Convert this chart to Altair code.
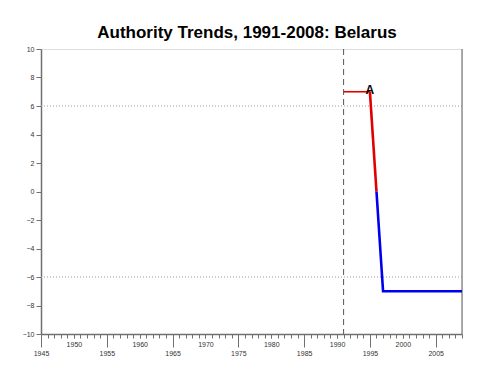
import altair as alt
import pandas as pd

# data
years_red_flat = [1991, 1995]
vals_red_flat = [7, 7]
years_red_drop = [1995, 1996]
vals_red_drop = [7, 0]
years_blue = [1996, 1997, 2009]
vals_blue = [0, -7, -7]
ref_lines = [6, -6]
transition_year = [1991]
end_year = [2009]
label_text = ["A"]
label_year = [1995]
label_val = [7]
all_years = list(range(1945, 2010))
major_years = [1945, 1955, 1965, 1975, 1985, 1995, 2005]
mid_years = [1950, 1960, 1970, 1980, 1990, 2000]
y_ticks = list(range(-10, 11, 2))

rows = []
for y, v in zip(years_red_flat, vals_red_flat):
    rows.append({"year": y, "value": v, "seg": "red_flat"})
for y, v in zip(years_red_drop, vals_red_drop):
    rows.append({"year": y, "value": v, "seg": "red_drop"})
for y, v in zip(years_blue, vals_blue):
    rows.append({"year": y, "value": v, "seg": "blue"})
df = pd.DataFrame(rows)

FONT = "Liberation Sans"
xscale = alt.Scale(domain=[1945, 2009], nice=False, zero=False)
yscale = alt.Scale(domain=[-10, 10], nice=False, zero=False)
AX = "#707070"
LBL = "#333333"

minor_axis = alt.Axis(orient="bottom", values=all_years, labels=False, tickSize=4, tickColor=AX,
                      domainColor=AX, domainWidth=1.5, grid=False, title=None)
major_axis = alt.Axis(orient="bottom", values=major_years, tickSize=13, tickColor=AX, labelPadding=2,
                      labelFontSize=7, labelFont=FONT, labelColor=LBL, domain=False,
                      grid=False, title=None, format="d", labelFlush=False, labelOverlap=False)
mid_axis = alt.Axis(orient="bottom", values=mid_years, tickSize=4, tickColor=AX, labelPadding=2,
                    labelFontSize=7, labelFont=FONT, labelColor=LBL, domain=False,
                    grid=False, title=None, format="d", labelFlush=False, labelOverlap=False)
y_axis = alt.Axis(orient="left", values=y_ticks, tickCount=11, tickSize=5, tickColor=AX, domainColor=AX,
                  domainWidth=1.5, labelFontSize=7, labelFont=FONT, labelColor=LBL, labelPadding=2,
                  grid=False, title=None, labelOverlap=False, labelFlush=False, labelBound=False)

def seg_line(name, color, width, axis_x):
    return alt.Chart(df).transform_filter(alt.datum.seg == name).mark_line(
        color=color, strokeWidth=width, strokeCap="butt"
    ).encode(
        x=alt.X("year:Q", scale=xscale, axis=axis_x),
        y=alt.Y("value:Q", scale=yscale, axis=y_axis),
    )

hlines = alt.Chart(pd.DataFrame({"v": ref_lines})).mark_rule(
    color="#999999", strokeDash=[1, 2], strokeWidth=1
).encode(y=alt.Y("v:Q", scale=yscale, axis=y_axis))

vline = alt.Chart(pd.DataFrame({"yr": transition_year})).mark_rule(
    color="#555555", strokeDash=[6, 4], strokeWidth=1
).encode(x=alt.X("yr:Q", scale=xscale, axis=major_axis))

border = alt.Chart(pd.DataFrame({"yr": end_year})).mark_rule(
    color="#909090", strokeWidth=1.5
).encode(x=alt.X("yr:Q", scale=xscale, axis=mid_axis))

red_flat = seg_line("red_flat", "#e00000", 1.6, minor_axis)
red_drop = seg_line("red_drop", "#e00000", 2.6, None)
blue = seg_line("blue", "#0000ee", 2.6, None)

label = alt.Chart(pd.DataFrame({"t": label_text, "yr": label_year, "v": label_val})).mark_text(
    font=FONT, fontSize=12, fontWeight="bold", baseline="middle", dy=-2, color="black"
).encode(
    x=alt.X("yr:Q", scale=xscale, axis=None),
    y=alt.Y("v:Q", scale=yscale, axis=y_axis),
    text="t:N",
)

title = alt.Chart(pd.DataFrame({"t": ["Authority Trends, 1991-2008: Belarus"]})).mark_text(
    font=FONT, fontSize=17, fontWeight="bold", baseline="alphabetic", align="center", color="black"
).encode(x=alt.value(206), y=alt.value(-11), text="t:N")

chart = alt.layer(
    hlines, vline, border, red_flat, red_drop, blue, label, title
).resolve_scale(x="shared", y="shared").resolve_axis(x="independent").properties(
    width=421, height=285,
    autosize=alt.AutoSizeParams(type="none"),
    padding={"left": 33, "top": 41, "right": 10, "bottom": 30},
).configure_view(stroke=None).configure(background="white").configure_axisY(labelOverlap=False)

chart.save("out.html", embed_options={"renderer": "svg", "actions": False})
